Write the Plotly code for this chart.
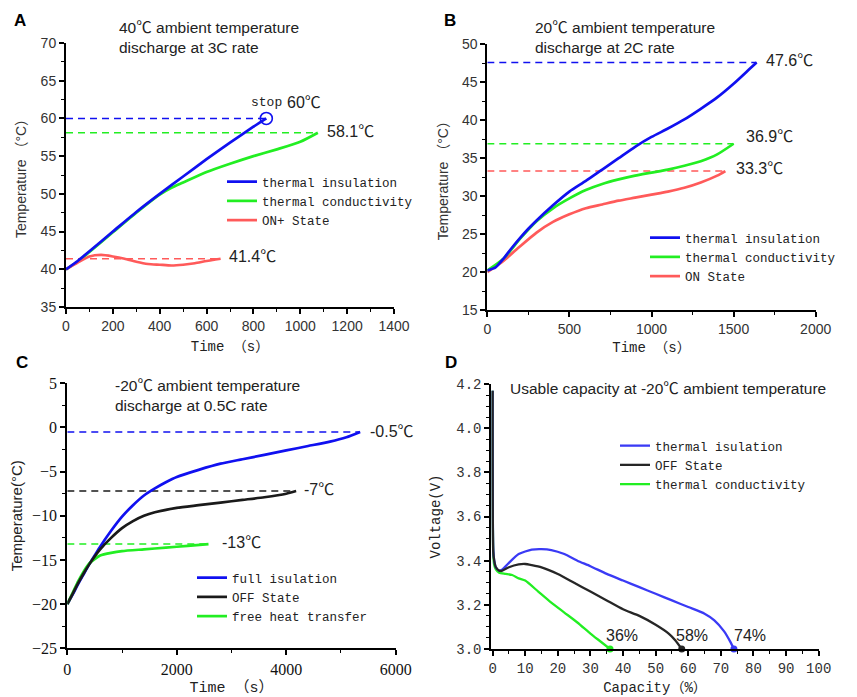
import plotly.graph_objects as go

# ---------------- Panel A: 40°C ambient, 3C ----------------
a_t_ins = [0, 50, 100, 200, 300, 400, 500, 600, 700, 800, 855]
a_T_ins = [40, 41.1, 42.4, 45.0, 47.6, 50.0, 52.3, 54.6, 56.8, 58.9, 60.0]
a_t_con = [0, 50, 100, 200, 300, 400, 450, 500, 600, 700, 800, 900, 1000, 1075]
a_T_con = [40, 41.0, 42.3, 44.9, 47.5, 49.9, 50.8, 51.5, 52.9, 54.0, 55.0, 55.9, 56.9, 58.1]
a_t_on = [0, 50, 100, 150, 200, 250, 300, 350, 400, 450, 500, 550, 600, 660]
a_T_on = [40, 40.9, 41.7, 41.9, 41.7, 41.4, 41.0, 40.7, 40.6, 40.5, 40.6, 40.8, 41.1, 41.4]
a_names = ["thermal insulation", "thermal conductivity", "ON+ State"]

# ---------------- Panel B: 20°C ambient, 2C ----------------
b_t_ins = [0, 50, 100, 150, 200, 250, 300, 400, 500, 600, 700, 800, 900, 1000, 1100, 1200, 1300, 1400, 1500, 1600, 1640]
b_T_ins = [20.2, 20.6, 21.8, 23.2, 24.5, 25.7, 26.8, 28.8, 30.6, 32.0, 33.5, 35.0, 36.5, 37.8, 38.9, 40.1, 41.5, 43.0, 44.8, 46.8, 47.6]
b_t_con = [0, 100, 200, 300, 400, 500, 600, 700, 800, 900, 1000, 1100, 1200, 1300, 1400, 1500]
b_T_con = [20.2, 21.8, 24.4, 26.7, 28.4, 29.7, 30.8, 31.6, 32.2, 32.7, 33.1, 33.5, 34.0, 34.6, 35.5, 36.9]
b_t_on = [0, 100, 200, 300, 400, 500, 600, 700, 800, 900, 1000, 1100, 1200, 1300, 1400, 1450]
b_T_on = [20.0, 21.5, 23.4, 25.2, 26.6, 27.6, 28.4, 28.9, 29.4, 29.8, 30.2, 30.6, 31.1, 31.8, 32.7, 33.3]
b_names = ["thermal insulation", "thermal conductivity", "ON State"]

# ---------------- Panel C: -20°C ambient, 0.5C ----------------
c_t_full = [0, 100, 200, 300, 400, 500, 600, 800, 1000, 1200, 1400, 1600, 1800, 2000, 2400, 2800, 3200, 3600, 4000, 4400, 4800, 5100, 5350]
c_T_full = [-20, -18.9, -17.7, -16.6, -15.5, -14.5, -13.5, -11.7, -10.1, -8.8, -7.7, -6.9, -6.2, -5.6, -4.8, -4.1, -3.6, -3.1, -2.6, -2.1, -1.6, -1.1, -0.5]
c_t_off = [0, 100, 200, 300, 400, 500, 600, 800, 1000, 1200, 1400, 1600, 2000, 2400, 2800, 3200, 3600, 4000, 4180]
c_T_off = [-20, -18.8, -17.6, -16.5, -15.5, -14.6, -13.8, -12.5, -11.4, -10.6, -10.0, -9.6, -9.1, -8.8, -8.5, -8.2, -7.9, -7.5, -7.2]
c_t_free = [0, 100, 200, 300, 400, 500, 600, 800, 1000, 1400, 1800, 2200, 2580]
c_T_free = [-20, -18.7, -17.4, -16.3, -15.4, -14.9, -14.5, -14.2, -14.0, -13.8, -13.6, -13.4, -13.2]
c_names = ["full isulation", "OFF State", "free heat transfer"]

# ---------------- Panel D: usable capacity at -20°C ----------------
d_cap_ins = [0, 0.2, 0.5, 1, 2, 3, 5, 8, 12, 15, 18, 22, 26, 30, 35, 40, 45, 50, 55, 60, 65, 68, 71, 73, 74]
d_V_ins = [4.17, 3.45, 3.40, 3.37, 3.355, 3.36, 3.39, 3.43, 3.45, 3.452, 3.448, 3.43, 3.40, 3.375, 3.34, 3.31, 3.28, 3.25, 3.22, 3.19, 3.16, 3.13, 3.08, 3.03, 3.0]
d_cap_off = [0, 0.2, 0.5, 1, 2, 3, 5, 8, 10, 12, 15, 20, 25, 30, 35, 40, 45, 50, 54, 56, 58]
d_V_off = [4.17, 3.44, 3.40, 3.37, 3.355, 3.355, 3.37, 3.383, 3.385, 3.38, 3.37, 3.34, 3.30, 3.26, 3.22, 3.18, 3.15, 3.11, 3.07, 3.04, 3.0]
d_cap_con = [0, 0.2, 0.5, 1, 2, 4, 6, 8, 10, 14, 18, 22, 26, 30, 33, 36]
d_V_con = [4.17, 3.43, 3.38, 3.36, 3.345, 3.34, 3.335, 3.32, 3.31, 3.26, 3.21, 3.165, 3.12, 3.07, 3.035, 3.0]
d_names = ["thermal isulation", "OFF State", "thermal conductivity"]

BLUE = "#1010f0"
GREEN = "#22ee22"
RED = "#ff5a5a"
BLACK = "#1a1a1a"
DBLUE = "#3a3af5"
DBLACK = "#262626"

SANS = "Liberation Sans, Arial, Noto Sans CJK SC, sans-serif"
MONO = "Liberation Mono, DejaVu Sans Mono, Noto Sans CJK SC, monospace"
SERIF = "Liberation Serif, Times New Roman, serif"

# the page body has an 8px margin: size the figure to the visible area
W, H, OFF = 849, 689, 8


def X(px):
    return (px - OFF) / W


def Y(py):
    return 1 - (py - OFF) / H


fig = go.Figure()


def curve(x, y, color, name, xa, ya, legend, rank, width=2.7):
    fig.add_trace(go.Scatter(x=x, y=y, mode="lines", name=name, legendrank=rank,
                             line=dict(color=color, width=width, shape="spline", smoothing=0.6),
                             xaxis=xa, yaxis=ya, legend=legend, showlegend=True))


def dashed(x_end, y_val, color, xa, ya):
    fig.add_trace(go.Scatter(x=[0, x_end], y=[y_val, y_val], mode="lines",
                             line=dict(color=color, width=1.5, dash="7px,5px"),
                             xaxis=xa, yaxis=ya, showlegend=False, hoverinfo="skip"))


# Panel A
dashed(a_t_ins[-1], a_T_ins[-1], BLUE, "x", "y")
dashed(a_t_con[-1], a_T_con[-1], GREEN, "x", "y")
dashed(a_t_on[-1], a_T_on[-1], RED, "x", "y")
curve(a_t_con, a_T_con, GREEN, a_names[1], "x", "y", "legend", 2)
curve(a_t_on, a_T_on, RED, a_names[2], "x", "y", "legend", 3)
curve(a_t_ins, a_T_ins, BLUE, a_names[0], "x", "y", "legend", 1)
fig.add_trace(go.Scatter(x=[a_t_ins[-1]], y=[a_T_ins[-1]], mode="markers",
                         marker=dict(symbol="circle-open", size=12, color=BLUE, line=dict(width=1.6)),
                         xaxis="x", yaxis="y", showlegend=False, cliponaxis=False))

# Panel B
dashed(b_t_ins[-1], b_T_ins[-1], BLUE, "x2", "y2")
dashed(b_t_con[-1], b_T_con[-1], GREEN, "x2", "y2")
dashed(b_t_on[-1], b_T_on[-1], RED, "x2", "y2")
curve(b_t_on, b_T_on, RED, b_names[2], "x2", "y2", "legend2", 3)
curve(b_t_con, b_T_con, GREEN, b_names[1], "x2", "y2", "legend2", 2)
curve(b_t_ins, b_T_ins, BLUE, b_names[0], "x2", "y2", "legend2", 1)

# Panel C
dashed(c_t_full[-1], c_T_full[-1], BLUE, "x3", "y3")
dashed(c_t_off[-1], c_T_off[-1], BLACK, "x3", "y3")
dashed(c_t_free[-1], c_T_free[-1], GREEN, "x3", "y3")
curve(c_t_full, c_T_full, BLUE, c_names[0], "x3", "y3", "legend3", 1)
curve(c_t_free, c_T_free, GREEN, c_names[2], "x3", "y3", "legend3", 3)
curve(c_t_off, c_T_off, BLACK, c_names[1], "x3", "y3", "legend3", 2)

# Panel D
curve(d_cap_con, d_V_con, GREEN, d_names[2], "x4", "y4", "legend4", 3, width=2.3)
curve(d_cap_ins, d_V_ins, DBLUE, d_names[0], "x4", "y4", "legend4", 1, width=2.3)
curve(d_cap_off, d_V_off, DBLACK, d_names[1], "x4", "y4", "legend4", 2, width=2.3)
for cx, cy, col in [(d_cap_ins, d_V_ins, DBLUE), (d_cap_off, d_V_off, DBLACK), (d_cap_con, d_V_con, GREEN)]:
    fig.add_trace(go.Scatter(x=[cx[-1]], y=[cy[-1]], mode="markers",
                             marker=dict(size=7, color=col), xaxis="x4", yaxis="y4",
                             showlegend=False, cliponaxis=False))


def axis(domain, rng, dtick, minor, anchor, tickfont, title, titlefont, standoff, tick0=0, fmt=None):
    d = dict(domain=domain, range=rng, dtick=dtick, tick0=tick0, anchor=anchor,
             showline=True, linecolor="black", linewidth=2,
             ticks="outside", ticklen=5, tickwidth=1.5, tickcolor="black",
             minor=dict(dtick=minor, tick0=tick0, ticks="outside", ticklen=3, tickwidth=1.2, tickcolor="black"),
             showgrid=False, zeroline=False, tickfont=tickfont, automargin=False,
             title=dict(text=title, font=titlefont, standoff=standoff))
    if fmt:
        d["tickformat"] = fmt
    return d


tick_ab = dict(family=SANS, size=14, color="#333333")
tick_c = dict(family=SERIF, size=16, color="#111111")
tick_d = dict(family=MONO, size=14, color="#333333")
xt_font = dict(family=MONO, size=14, color="#222222")
yt_font = dict(family=SANS, size=14, color="#333333")

fig.update_layout(
    width=W, height=H, margin=dict(l=0, r=0, t=0, b=0),
    paper_bgcolor="white", plot_bgcolor="white",
    xaxis=axis([X(66), X(394)], [0, 1400], 200, 100, "y", tick_ab, "Time （s）", xt_font, 8),
    yaxis=axis([Y(307), Y(43)], [35, 70], 5, 2.5, "x", tick_ab, "Temperature （°C）", yt_font, 11, tick0=35),
    xaxis2=axis([X(487.3), X(815.7)], [0, 2000], 500, 250, "y2", tick_ab, "Time （s）", xt_font, 6),
    yaxis2=axis([Y(310), Y(44.3)], [15, 50], 5, 2.5, "x2", tick_ab, "Temperature （°C）", yt_font, 10, tick0=15),
    xaxis3=axis([X(67.3), X(395.7)], [0, 6000], 2000, 1000, "y3", tick_c, "Time （s）",
                dict(family=MONO, size=15, color="#222222"), 8),
    yaxis3=axis([Y(648.3), Y(383.3)], [-25, 5], 5, 2.5, "x3", tick_c, "Temperature(°C)",
                dict(family=SANS, size=15, color="#222222"), 6, tick0=-25),
    xaxis4=axis([X(491.3), X(818.7)], [-0.4, 100], 10, 5, "y4", tick_d, "Capacity（%）",
                dict(family=MONO, size=14, color="#222222"), 6),
    yaxis4=axis([Y(649), Y(384)], [3.0, 4.2], 0.2, 0.05, "x4", tick_d, "Voltage(V)",
                dict(family=MONO, size=14, color="#222222"), 12, tick0=3.0, fmt=".1f"),
)

leg_common = dict(xref="paper", yref="paper", xanchor="left", yanchor="top",
                  bgcolor="rgba(0,0,0,0)", borderwidth=0, tracegroupgap=0,
                  font=dict(family=MONO, size=12.5, color="#222222"), itemwidth=30,
                  traceorder="normal")
fig.update_layout(
    legend=dict(x=X(222), y=Y(183 - 16), **leg_common),
    legend2=dict(x=X(645), y=Y(238 - 15), **leg_common),
    legend3=dict(x=X(192), y=Y(578 - 15), **leg_common),
    legend4=dict(x=X(615), y=Y(446 - 15), **leg_common),
)

ann = []


def note(text, x, y, xref, yref, size=16, family=SANS, xanchor="left", yanchor="middle",
         color="#222222", bold=False):
    ann.append(dict(text=("<b>%s</b>" % text) if bold else text, x=x, y=y, xref=xref, yref=yref,
                    showarrow=False, xanchor=xanchor, yanchor=yanchor, align="left",
                    font=dict(family=family, size=size, color=color)))


# panel letters
note("A", X(12), Y(21), "paper", "paper", size=17, color="black", bold=True)
note("B", X(442), Y(20), "paper", "paper", size=17, color="black", bold=True)
note("C", X(14), Y(362), "paper", "paper", size=17, color="black", bold=True)
note("D", X(443), Y(362), "paper", "paper", size=17, color="black", bold=True)

# titles
note("40℃ ambient temperature<br>discharge at 3C rate", X(117), Y(38), "paper", "paper", size=15.5)
note("20℃ ambient temperature<br>discharge at 2C rate", X(533), Y(38), "paper", "paper", size=15.5)
note("-20℃ ambient temperature<br>discharge at 0.5C rate", X(113), Y(395), "paper", "paper", size=15.5)
note("Usable capacity at -20℃ ambient temperature", X(508), Y(388), "paper", "paper", size=15.5)

# value labels
note("stop", 932, 62.1, "x", "y", size=13, family=MONO, xanchor="right")
note("60℃", 936, 62.1, "x", "y", size=16)
note("58.1℃", 1106, 58.3, "x", "y")
note("41.4℃", 688, 41.7, "x", "y")
note("47.6℃", 1685, 47.9, "x2", "y2")
note("36.9℃", 1565, 37.9, "x2", "y2")
note("33.3℃", 1500, 33.7, "x2", "y2")
note("-0.5℃", 5500, -0.4, "x3", "y3")
note("-7℃", 4290, -7.0, "x3", "y3")
note("-13℃", 2795, -13.0, "x3", "y3")
note("36%", 39.6, 3.063, "x4", "y4", xanchor="center")
note("58%", 61.1, 3.063, "x4", "y4", xanchor="center")
note("74%", 78.8, 3.063, "x4", "y4", xanchor="center")

fig.update_layout(annotations=ann)
fig.write_html("out.html")
